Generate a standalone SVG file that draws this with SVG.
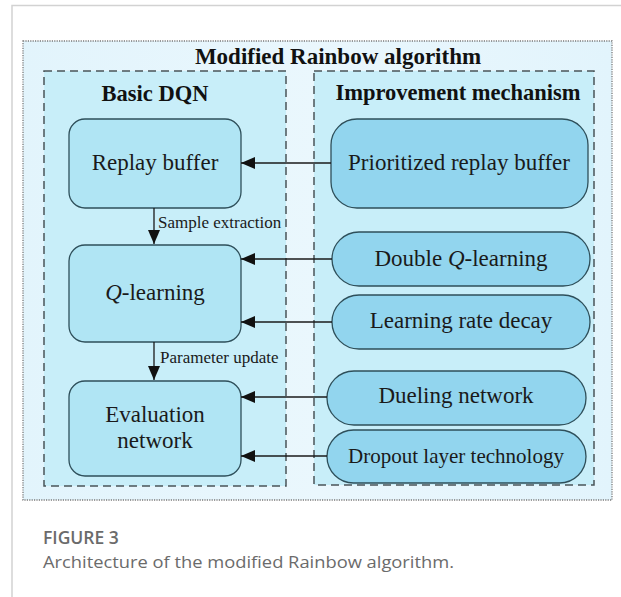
<svg xmlns="http://www.w3.org/2000/svg" width="621" height="597" viewBox="0 0 621 597">
<defs>
<style>
.frame{fill:none;stroke:#d2d2d2;stroke-width:1.5}
.outer{fill:#e6f5fc;stroke:#7a7a7a;stroke-width:1.3;stroke-dasharray:1.2 1.2}
.group{fill:#c8eef9;stroke:#4a5458;stroke-width:1.5;stroke-dasharray:8 5}
.nl{fill:#b0e5f4;stroke:#2e4f5a;stroke-width:1.3}
.nr{fill:#92d5ee;stroke:#2e4f5a;stroke-width:1.3}
.t{font-family:"Liberation Serif","Times New Roman",serif;fill:#1a1a1a}
.tb{font-family:"Liberation Serif","Times New Roman",serif;font-weight:bold;fill:#111}
.conn{stroke:#1a1a1a;stroke-width:1.3;fill:none}
.cap{font-family:"Open Sans","Noto Sans",sans-serif;fill:#6b6b6b}
</style>
<marker id="ah" viewBox="0 0 14 12" refX="14" refY="6" markerWidth="14" markerHeight="12" markerUnits="userSpaceOnUse" orient="auto">
<path d="M0,0 L14,6 L0,12 Z" fill="#111"/>
</marker>
<linearGradient id="og" x1="0" y1="0" x2="1" y2="0">
<stop offset="0" stop-color="#e2f4fc"/>
<stop offset="0.5" stop-color="#eaf7fd"/>
<stop offset="1" stop-color="#e2f4fc"/>
</linearGradient>
</defs>
<rect width="621" height="597" fill="#ffffff"/>
<path class="frame" d="M621,5.5 H12 V597"/>
<g id="outer">
<rect class="outer" x="23" y="41" width="589" height="459" style="fill:url(#og)"/>
<text class="tb" x="338" y="64" font-size="23" text-anchor="middle">Modified Rainbow algorithm</text>
</g>
<g id="basic-dqn">
<rect class="group" x="44" y="71" width="242" height="415"/>
<text class="tb" x="155" y="101" font-size="22.5" text-anchor="middle">Basic DQN</text>
</g>
<g id="improvement">
<rect class="group" x="314" y="71" width="280" height="414"/>
<text class="tb" x="458" y="100" font-size="22.5" text-anchor="middle">Improvement mechanism</text>
</g>
<g id="replay-buffer">
<rect class="nl" x="69" y="119" width="172" height="89" rx="16"/>
<text class="t" x="155" y="170" font-size="23" text-anchor="middle">Replay buffer</text>
</g>
<g id="q-learning">
<rect class="nl" x="69" y="245" width="172" height="97" rx="16"/>
<text class="t" x="155" y="300" font-size="23" text-anchor="middle"><tspan font-style="italic">Q</tspan>-learning</text>
</g>
<g id="evaluation-network">
<rect class="nl" x="69" y="381" width="172" height="95" rx="16"/>
<text class="t" x="155" y="422" font-size="23" text-anchor="middle">Evaluation</text>
<text class="t" x="155" y="448" font-size="23" text-anchor="middle">network</text>
</g>
<g id="prioritized-replay-buffer">
<rect class="nr" x="331" y="119" width="257" height="89" rx="26"/>
<text class="t" x="459" y="170" font-size="23" text-anchor="middle">Prioritized replay buffer</text>
</g>
<g id="double-q-learning">
<rect class="nr" x="332" y="232" width="258" height="54" rx="27"/>
<text class="t" x="461" y="266" font-size="23" text-anchor="middle">Double <tspan font-style="italic">Q</tspan>-learning</text>
</g>
<g id="learning-rate-decay">
<rect class="nr" x="332" y="295" width="258" height="54" rx="27"/>
<text class="t" x="461" y="328" font-size="23" text-anchor="middle">Learning rate decay</text>
</g>
<g id="dueling-network">
<rect class="nr" x="327" y="371" width="259" height="54" rx="27"/>
<text class="t" x="456" y="403" font-size="23" text-anchor="middle">Dueling network</text>
</g>
<g id="dropout-layer">
<rect class="nr" x="327" y="430" width="259" height="53" rx="26.5"/>
<text class="t" x="456" y="463" font-size="21" text-anchor="middle">Dropout layer technology</text>
</g>
<g id="connectors">
<line class="conn" x1="154" y1="208" x2="154" y2="244" marker-end="url(#ah)"/>
<text class="t" x="158" y="228" font-size="17">Sample extraction</text>
<line class="conn" x1="154" y1="342" x2="154" y2="380" marker-end="url(#ah)"/>
<text class="t" x="160" y="363" font-size="17">Parameter update</text>
<line class="conn" x1="331" y1="163" x2="241" y2="163" marker-end="url(#ah)"/>
<line class="conn" x1="332" y1="259" x2="241" y2="259" marker-end="url(#ah)"/>
<line class="conn" x1="332" y1="322" x2="241" y2="322" marker-end="url(#ah)"/>
<line class="conn" x1="327" y1="397" x2="241" y2="397" marker-end="url(#ah)"/>
<line class="conn" x1="327" y1="456" x2="241" y2="456" marker-end="url(#ah)"/>
</g>
<g id="caption">
<text class="cap" x="43" y="544" font-size="17.5" font-weight="600">FIGURE 3</text>
<text class="cap" x="43" y="568" font-size="16" textLength="411" lengthAdjust="spacingAndGlyphs">Architecture of the modified Rainbow algorithm.</text>
</g>
</svg>
